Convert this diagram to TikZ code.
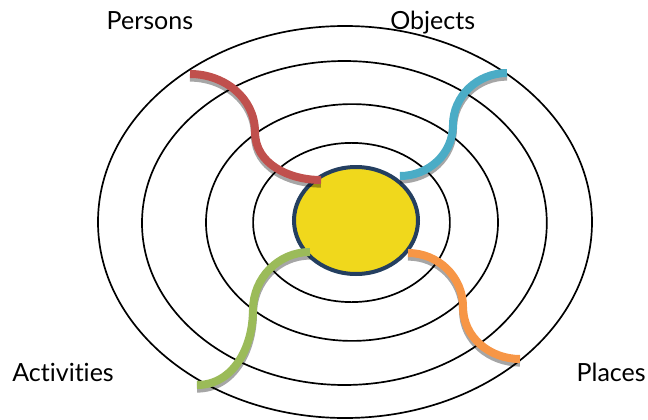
\documentclass[tikz,border=0pt]{standalone}
\usepackage{fontspec}
\setmainfont{Lato}[Ligatures=NoCommon]
\usetikzlibrary{shapes.geometric}

\definecolor{persred}{HTML}{C0504D}
\definecolor{objblue}{HTML}{4BACC6}
\definecolor{actgreen}{HTML}{9BBB59}
\definecolor{placeorange}{HTML}{F79646}
\definecolor{sun}{HTML}{F0D81C}
\definecolor{navy}{HTML}{243F60}

\begin{document}
\begin{tikzpicture}[
  ring/.style={draw=black,line width=1.2pt},
  core/.style={ellipse,draw=navy,line width=1mm,fill=sun,inner sep=0pt,
    minimum width=3.1cm,minimum height=2.675cm},
  armshadow/.style={draw=black,draw opacity=.35,line width=2mm,
    transform canvas={yshift=-.9mm}},
  arm/.style={draw=#1,line width=2mm,preaction={armshadow}},
  ringlabel/.style={font=\fontsize{17.8}{20}\selectfont,inner sep=0pt}]
\useasboundingbox (-8.8,-4.925) rectangle (7.4,5.55);

% rings
\draw[ring] (-0.175,0) ellipse [x radius=6.175,y radius=4.9];
\draw[ring] (-0.19,-0.025) ellipse [x radius=5.06,y radius=4.05];
\draw[ring] (0,-0.0125) ellipse [x radius=3.65,y radius=2.96];
\draw[ring] (-0.0125,-0.0125) ellipse [x radius=2.46,y radius=1.99];
\node[core] (core) at (0.1,0.0375) {};

% arm ends
\coordinate (persin) at (-0.775,1.05);
\coordinate (persmid) at (-2.425,2.25);
\coordinate (persout) at (-4.05,3.7);
\coordinate (objin) at (1.2,1.15);
\coordinate (objmid) at (2.525,2.425);
\coordinate (objout) at (3.875,3.725);
\coordinate (actin) at (-1.05,-0.75);
\coordinate (actmid) at (-2.475,-2.2);
\coordinate (actout) at (-3.875,-4.075);
\coordinate (plin) at (1.4,-0.775);
\coordinate (plmid) at (2.775,-2.125);
\coordinate (plout) at (4.2,-3.425);

% arms
\draw[arm=persred] (persout) to[out=0,in=90] (persmid) to[out=-90,in=180] (persin);
\draw[arm=objblue] (objin) to[out=0,in=-90] (objmid) to[out=90,in=180] (objout);
\draw[arm=actgreen] (actin) to[out=180,in=90] (actmid) to[out=-90,in=0] (actout);
\draw[arm=placeorange] (plin) to[out=0,in=90] (plmid) to[out=-90,in=180] (plout);

% labels
\node[ringlabel,anchor=base west] (persons) at (-6.14,4.8) {Persons};
\node[ringlabel,anchor=base west] (objects) at (0.95,4.8) {Objects};
\node[ringlabel,anchor=base west] (activities) at (-8.5,-3.99) {Activities};
\node[ringlabel,anchor=base east] (places) at (7.35,-3.99) {Places};
\end{tikzpicture}
\end{document}
